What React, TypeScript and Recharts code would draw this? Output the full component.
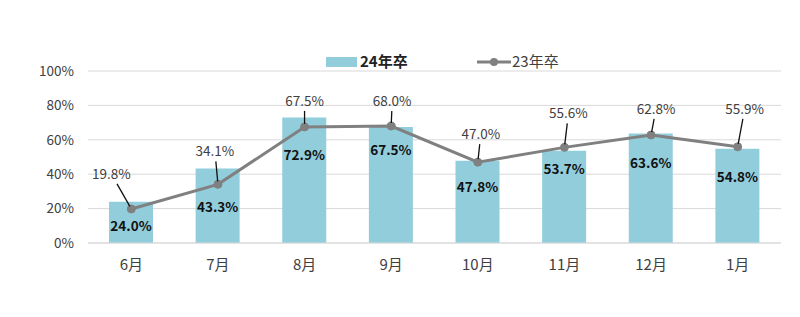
import { ComposedChart, Bar, Line, XAxis, YAxis, CartesianGrid, Legend, LabelList } from 'recharts';

const MONTHS = ['6月', '7月', '8月', '9月', '10月', '11月', '12月', '1月'];
const GRAD_24 = [24.0, 43.3, 72.9, 67.5, 47.8, 53.7, 63.6, 54.8];
const GRAD_23 = [19.8, 34.1, 67.5, 68.0, 47.0, 55.6, 62.8, 55.9];
const Y_TICKS = [0, 20, 40, 60, 80, 100];

// where each 23年卒 label sits relative to its point
const LABEL_SHIFT: [number, number][] = [
  [-20, -35], [-3, -33], [0, -26], [1, -25], [3, -28], [4, -34], [5, -26], [7, -38],
];
// how far below the bar top each 24年卒 label sits
const BAR_LABEL_DROP = [24, 38, 37, 23, 26.5, 18, 29, 28];

const FONT = '"Noto Sans CJK JP", "Noto Sans", sans-serif';
const BAR_COLOR = '#92cddc';
const LINE_COLOR = '#808080';

const data = MONTHS.map((m, i) => ({ month: m, g24: GRAD_24[i], g23: GRAD_23[i] }));

function BarLabel(props: any) {
  const { x, y, width, value, index } = props;
  return (
    <text x={x + width / 2} y={y + BAR_LABEL_DROP[index]} dy={5} textAnchor="middle"
      fontSize={13.5} fontWeight={700} fill="#111" fontFamily={FONT}>
      {value.toFixed(1)}%
    </text>
  );
}

function LineLabel(props: any) {
  const { x, y, value, index } = props;
  const [dx, dy] = LABEL_SHIFT[index];
  const lx = x + dx;
  const ly = y + dy;
  const len = Math.hypot(dx, dy);
  const t = Math.min(Math.abs(22 / (dx || 0.001)), Math.abs(10 / (dy || 0.001)));
  const sx = lx - dx * t;
  const sy = ly - dy * t;
  const ex = x + (dx / len) * 3;
  const ey = y + (dy / len) * 3;
  return (
    <g>
      <line x1={sx} y1={sy} x2={ex} y2={ey} stroke="#111" strokeWidth={1.3} />
      <text x={lx} y={ly} dy={5} textAnchor="middle" fontSize={13.5} fill="#404040" fontFamily={FONT}>
        {value.toFixed(1)}%
      </text>
    </g>
  );
}

function LegendBox() {
  return (
    <div style={{ position: 'relative', height: 20, fontFamily: FONT, fontSize: 15, color: '#404040' }}>
      <div style={{ position: 'absolute', left: 326, top: 5, width: 31, height: 10, background: BAR_COLOR }} />
      <span style={{ position: 'absolute', left: 360, top: -2, fontWeight: 700, color: '#222' }}>24年卒</span>
      <svg style={{ position: 'absolute', left: 477, top: 4 }} width={34} height={12}>
        <line x1={0} y1={6} x2={34} y2={6} stroke={LINE_COLOR} strokeWidth={3} />
        <circle cx={17} cy={6} r={4} fill={LINE_COLOR} />
      </svg>
      <span style={{ position: 'absolute', left: 512, top: -2 }}>23年卒</span>
    </div>
  );
}

export default function App() {
  return (
    <div style={{ position: 'absolute', left: 0, top: 0, background: '#fff' }}>
      <ComposedChart width={800} height={317} data={data}
        margin={{ top: 51, right: 19, bottom: 44, left: 0 }} barCategoryGap="0%">
        <CartesianGrid vertical={false} stroke="#d9d9d9" />
        <XAxis dataKey="month" axisLine={{ stroke: '#d9d9d9' }} tickLine={false} height={30}
          tickMargin={10} tick={{ fontSize: 15, fill: '#404040', fontFamily: FONT }} />
        <YAxis domain={[0, 100]} ticks={Y_TICKS} axisLine={false} tickLine={false} width={88}
          tickMargin={8} tickFormatter={(v: number) => `${v}%`}
          tick={{ fontSize: 13.5, fill: '#404040', fontFamily: FONT }} />
        <Legend verticalAlign="top" height={20} content={<LegendBox />}
          wrapperStyle={{ top: 52, left: 0, width: 800 }} />
        <Bar dataKey="g24" name="24年卒" fill={BAR_COLOR} barSize={44} isAnimationActive={false}>
          <LabelList dataKey="g24" content={<BarLabel />} />
        </Bar>
        <Line dataKey="g23" name="23年卒" stroke={LINE_COLOR} strokeWidth={3}
          dot={{ r: 4, fill: LINE_COLOR, stroke: LINE_COLOR, strokeWidth: 1 }} activeDot={false}
          isAnimationActive={false}>
          <LabelList dataKey="g23" content={<LineLabel />} />
        </Line>
      </ComposedChart>
    </div>
  );
}
